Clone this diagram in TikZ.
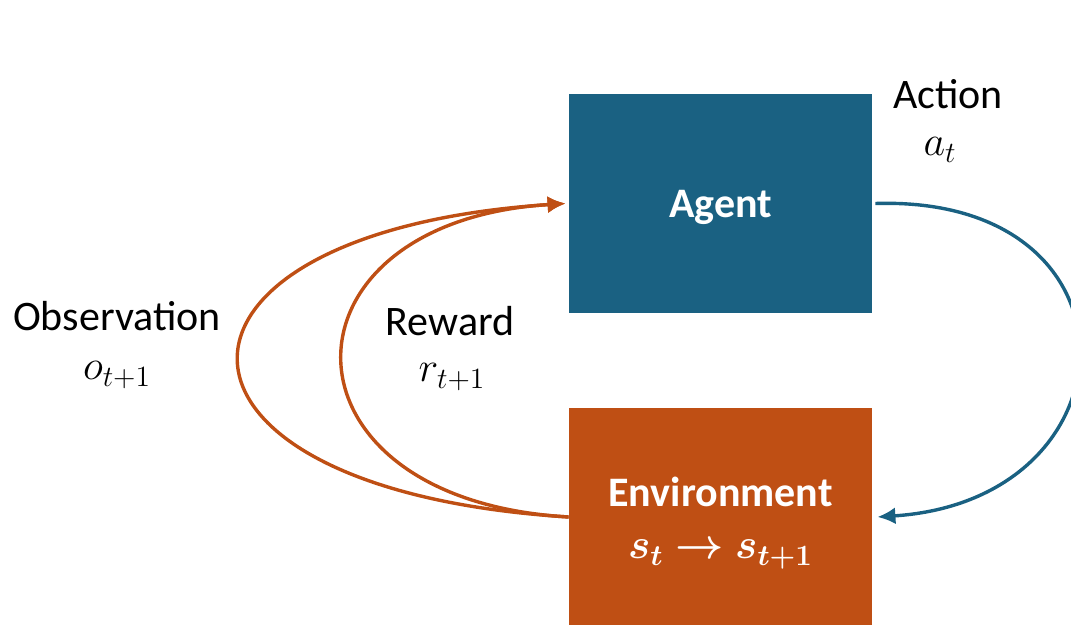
\documentclass[tikz,border=0pt]{standalone}
\usepackage{fix-cm}
\usepackage{amsmath}
\usepackage{bm}
\usepackage{fontspec}
\setmainfont{Carlito}
\usepackage{tikz}
\usetikzlibrary{arrows.meta, positioning, shapes}

\definecolor{agentblue}{HTML}{1A6182}
\definecolor{envorange}{HTML}{BF4F14}

\begin{document}
\begin{tikzpicture}[x=0.5pt, y=0.5pt, >={Latex[length=9pt,width=8.5pt]}]

        % Define block styles
        \tikzstyle{agentbox} = [rectangle, fill=agentblue, text=white, font=\fontsize{21}{25}\selectfont\bfseries, text height=16pt, text depth=1.5pt, minimum width=151.5pt, minimum height=109.5pt, inner sep=0pt]
        \tikzstyle{envbox} = [rectangle, fill=envorange, text=white, font=\fontsize{21}{25}\selectfont\bfseries, align=center, minimum width=151.5pt, minimum height=115pt, inner sep=0pt]
        \tikzstyle{lbl} = [font=\fontsize{21}{25}\selectfont, inner sep=0pt]
        \tikzstyle{loopback} = [line width=1.7pt, draw=envorange, ->]
        \tikzstyle{act} = [line width=1.7pt, draw=agentblue, ->]

        \useasboundingbox (0,0) rectangle (1071,625);

        % Components
        \node (agent) [agentbox] at (720.5,421.5) {Agent};
        \node (env) [envbox] at (720.5,102) {Environment\\[1pt] $\bm{s_t \rightarrow s_{t+1}}$};

        % Arrows
        \draw [act] ([xshift=1.5pt]agent.east) .. controls (1150,430) and (1140,125) .. ([xshift=2.5pt,yshift=3pt]env.east);
        \draw [loopback] ([yshift=3pt]env.west) .. controls (130,135) and (130,393) .. ([xshift=-1.5pt]agent.west);
        \draw [loopback] ([yshift=3pt]env.west) .. controls (268,125) and (268,403) .. ([xshift=-1.5pt]agent.west);

        % Labels
        \node (action) [lbl] at (948,531) {Action};
        \node (actsym) [lbl] at (940,475) {$a_t$};
        \node (reward) [lbl] at (450,304) {Reward};
        \node (rewsym) [lbl] at (452,248) {$r_{t+1}$};
        \node (obs) [lbl] at (117,309) {Observation};
        \node (obssym) [lbl] at (117,250) {$o_{t+1}$};

\end{tikzpicture}
\end{document}
